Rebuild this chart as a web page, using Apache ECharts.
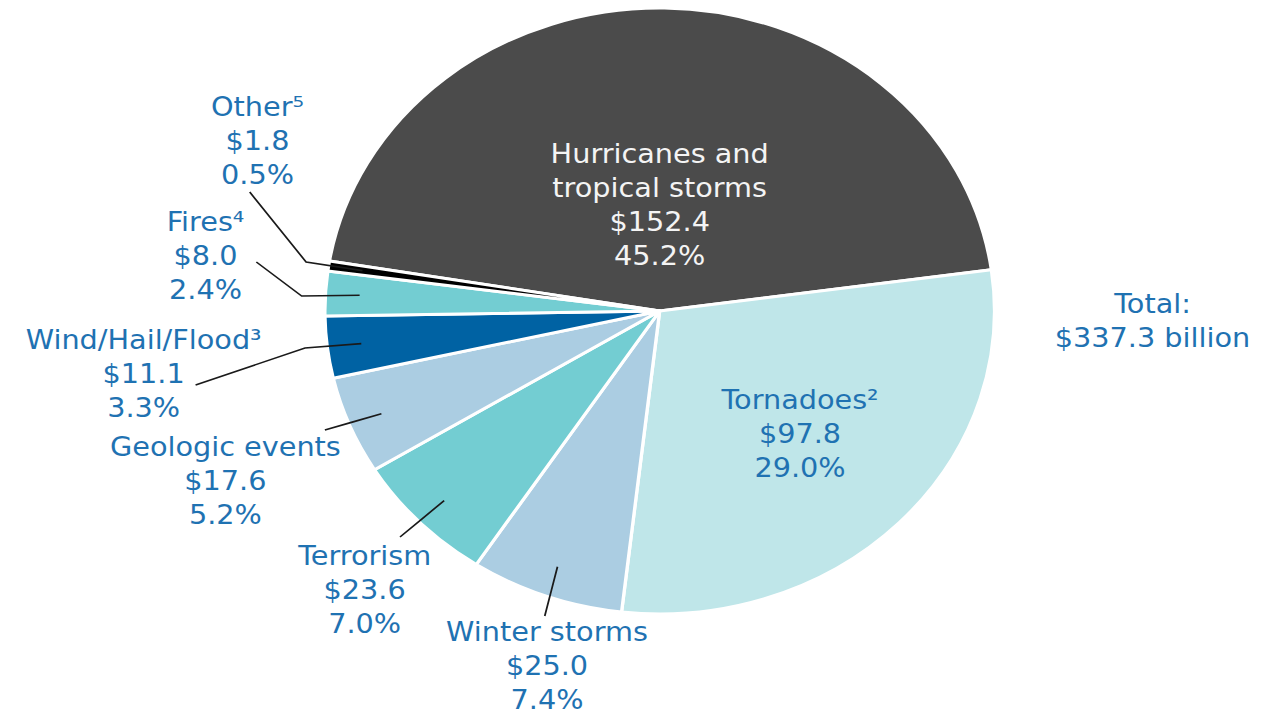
<!DOCTYPE html>
<html><head><meta charset="utf-8">
<script src="https://cdn.jsdelivr.net/npm/echarts@6/dist/echarts.min.js"></script>
<style>
html,body{margin:0;padding:0;overflow:hidden;background:#fff;width:1263px;height:717px}
#wrap{width:1263px;height:717px;overflow:hidden}
#chart{width:1143px;height:717px;transform:scaleX(1.105);transform-origin:0 0}
</style></head><body><div id="wrap"><div id="chart"></div></div>
<script>
// ---- data ----
const categories = ['Hurricanes and\ntropical storms', 'Tornadoes²', 'Winter storms', 'Terrorism',
  'Geologic events', 'Wind/Hail/Flood³', 'Fires⁴', 'Other⁵'];
const values = [152.4, 97.8, 25.0, 23.6, 17.6, 11.1, 8.0, 1.8];
const totalLines = ['Total:', '$337.3 billion'];

// ---- styles / layout (kept apart from data) ----
const BLUE = '#1f72b2';
const sliceColors = ['#4b4b4b', '#bfe6e9', '#abcde2', '#73cdd2', '#abcde2', '#0062a3', '#73cdd2', '#000000'];
const labelColors = ['#f4f4f4', BLUE, BLUE, BLUE, BLUE, BLUE, BLUE, BLUE];
const CX = 597, CY = 311, R = 303, R_ANCHOR = 272;
const FONT = 'DejaVu Sans';
const FS = 26, LH = 34;
const labelPos = [[597, 205], [724, 434], [495, 666], [330, 590], [204, 481], [130, 374], [186, 256], [233, 141]];
const guides = [null, null,
  {end: [493, 616]},
  {end: [362, 537]},
  {end: [294, 430]},
  {bend: [276, 348], end: [177, 385]},
  {bend: [273, 296], end: [232, 262]},
  {bend: [277, 262], end: [226, 192]}];

const chart = echarts.init(document.getElementById('chart'), null, {renderer: 'svg'});

const baseData = categories.map((c, i) => ({
  name: c, value: values[i], itemStyle: {color: sliceColors[i]}
}));
const labelData = categories.map((c, i) => ({
  name: c, value: values[i],
  label: {color: labelColors[i]},
  labelLine: {show: guides[i] !== null}
}));

chart.setOption({
  animation: false,
  backgroundColor: '#ffffff',
  series: [
    {
      type: 'pie',
      center: [CX, CY],
      radius: [0, R],
      startAngle: 170.5,
      clockwise: true,
      avoidLabelOverlap: false,
      silent: true,
      label: {show: false},
      labelLine: {show: false},
      itemStyle: {borderColor: '#ffffff', borderWidth: 3},
      data: baseData
    },
    {
      type: 'pie',
      center: [CX, CY],
      radius: [0, R_ANCHOR],
      startAngle: 170.5,
      clockwise: true,
      avoidLabelOverlap: false,
      silent: true,
      z: 5,
      itemStyle: {color: 'rgba(0,0,0,0)', borderWidth: 0},
      label: {
        show: true,
        position: 'outside',
        fontFamily: FONT,
        fontSize: FS,
        lineHeight: LH,
        formatter: p => p.name + '\n$' + p.value.toFixed(1) + '\n' + p.percent.toFixed(1) + '%'
      },
      labelLine: {show: true, length: 10, length2: 10, lineStyle: {color: '#1a1a1a', width: 1.6}},
      labelLayout: function (p) {
        const i = p.dataIndex;
        const pos = labelPos[i];
        const res = {x: pos[0], y: pos[1], align: 'center', verticalAlign: 'middle'};
        const g = guides[i];
        if (g && p.labelLinePoints) {
          const a = p.labelLinePoints[0];
          const b = g.bend || [(a[0] + g.end[0]) / 2, (a[1] + g.end[1]) / 2];
          res.labelLinePoints = [a, b, g.end];
        }
        return res;
      },
      data: labelData
    }
  ],
  graphic: [{
    type: 'text',
    x: 1043, y: 321,
    style: {
      text: totalLines.join('\n'),
      fill: BLUE,
      font: FS + 'px "' + FONT + '"',
      lineHeight: LH,
      align: 'center',
      verticalAlign: 'middle'
    }
  }]
});
</script></body></html>
